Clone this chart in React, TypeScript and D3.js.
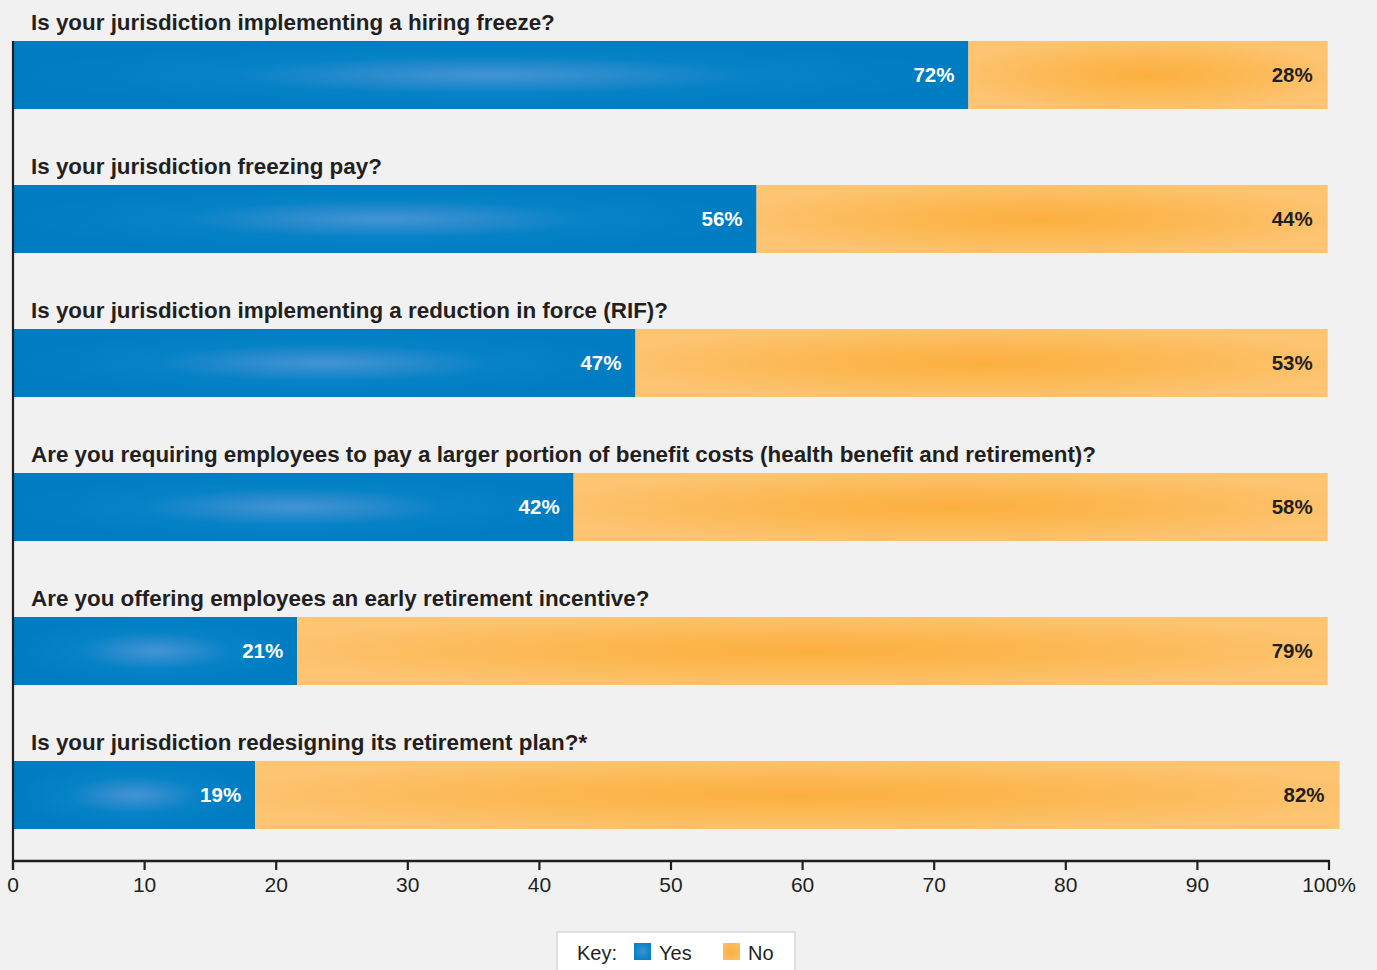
import React from "react";
import * as d3 from "d3";

const questions = [
  "Is your jurisdiction implementing a hiring freeze?",
  "Is your jurisdiction freezing pay?",
  "Is your jurisdiction implementing a reduction in force (RIF)?",
  "Are you requiring employees to pay a larger portion of benefit costs (health benefit and retirement)?",
  "Are you offering employees an early retirement incentive?",
  "Is your jurisdiction redesigning its retirement plan?*",
];
const yesValues = [72.6, 56.5, 47.3, 42.6, 21.6, 18.4];
const noValues = [27.3, 43.4, 52.6, 57.3, 78.3, 82.4];
const yesLabels = ["72%", "56%", "47%", "42%", "21%", "19%"];
const noLabels = ["28%", "44%", "53%", "58%", "79%", "82%"];
const tickValues = [0, 10, 20, 30, 40, 50, 60, 70, 80, 90, 100];
const legendItems = ["Yes", "No"];

const W = 1377;
const H = 970;
const FONT = "'Liberation Sans', Arial, Helvetica, sans-serif";
const INK = "#231f20";

export default function App() {
  const x = d3.scaleLinear().domain([0, 100]).range([13, 1329]);
  const bh = 68;
  const y = d3
    .scaleBand<number>()
    .domain(d3.range(questions.length))
    .range([41, 761 + bh])
    .paddingInner(76 / 144)
    .paddingOuter(0);
  const axisY = 861;

  return (
    <svg
      width={W}
      height={H}
      style={{ position: "absolute", left: 0, top: 0, background: "#f1f1f1" }}
    >
      <defs>
        <radialGradient id="gYes" cx="0.5" cy="0.5" r="0.5">
          <stop offset="0" stopColor="#4494d4" />
          <stop offset="0.25" stopColor="#2a8bcd" />
          <stop offset="0.55" stopColor="#0682c7" />
          <stop offset="1" stopColor="#007cc2" />
        </radialGradient>
        <radialGradient id="gNo" cx="0.5" cy="0.5" r="0.55">
          <stop offset="0" stopColor="#fbaf3e" />
          <stop offset="0.5" stopColor="#fcb955" />
          <stop offset="1" stopColor="#fdc472" />
        </radialGradient>
        <radialGradient id="gYesKey" cx="0.5" cy="0.5" r="0.6">
          <stop offset="0" stopColor="#3d91d2" />
          <stop offset="1" stopColor="#0080c6" />
        </radialGradient>
        <radialGradient id="gNoKey" cx="0.5" cy="0.5" r="0.6">
          <stop offset="0" stopColor="#fbb040" />
          <stop offset="1" stopColor="#fdbd62" />
        </radialGradient>
      </defs>
      <rect width={W} height={H} fill="#f1f1f1" />

      {questions.map((q, i) => {
        const top = y(i)!;
        const x0 = x(0);
        const x1 = x(yesValues[i]);
        const x2 = x(yesValues[i] + noValues[i]);
        return (
          <g key={i}>
            <text
              x={31}
              y={top - 11}
              fontFamily={FONT}
              fontWeight={700}
              fontSize={22.4}
              fill={INK}
            >
              {q}
            </text>
            <rect x={x0} y={top} width={x1 - x0} height={bh} fill="url(#gYes)" />
            <rect x={x1} y={top} width={x2 - x1} height={bh} fill="url(#gNo)" />
            <text
              x={x1 - 14}
              y={top + bh / 2 + 7}
              textAnchor="end"
              fontFamily={FONT}
              fontWeight={700}
              fontSize={20.5}
              fill="#ffffff"
            >
              {yesLabels[i]}
            </text>
            <text
              x={x2 - 15}
              y={top + bh / 2 + 6.5}
              textAnchor="end"
              fontFamily={FONT}
              fontWeight={700}
              fontSize={20.5}
              fill={INK}
            >
              {noLabels[i]}
            </text>
          </g>
        );
      })}

      {/* axes */}
      <line x1={x(0)} x2={x(0)} y1={41} y2={axisY + 9} stroke={INK} strokeWidth={2.2} />
      <line x1={x(0) - 1} x2={x(100) + 1} y1={axisY} y2={axisY} stroke={INK} strokeWidth={2.5} />
      {tickValues.map((t) => (
        <g key={t}>
          <line x1={x(t)} x2={x(t)} y1={axisY} y2={axisY + 9} stroke={INK} strokeWidth={2.2} />
          <text
            x={x(t)}
            y={axisY + 31}
            textAnchor="middle"
            fontFamily={FONT}
            fontSize={21}
            fill={INK}
          >
            {t === 100 ? "100%" : String(t)}
          </text>
        </g>
      ))}

      {/* legend */}
      <rect x={557} y={932} width={238} height={50} fill="#ffffff" stroke="#d6d6d6" strokeWidth={1.5} />
      <text x={577} y={960} fontFamily={FONT} fontSize={20} fill={INK}>
        Key:
      </text>
      {legendItems.map((name, i) => {
        const lx = i === 0 ? 634 : 723;
        return (
          <g key={name}>
            <rect x={lx} y={943} width={17} height={17} fill={i === 0 ? "url(#gYesKey)" : "url(#gNoKey)"} />
            <text x={lx + 25} y={960} fontFamily={FONT} fontSize={20} fill={INK}>
              {name}
            </text>
          </g>
        );
      })}
    </svg>
  );
}
